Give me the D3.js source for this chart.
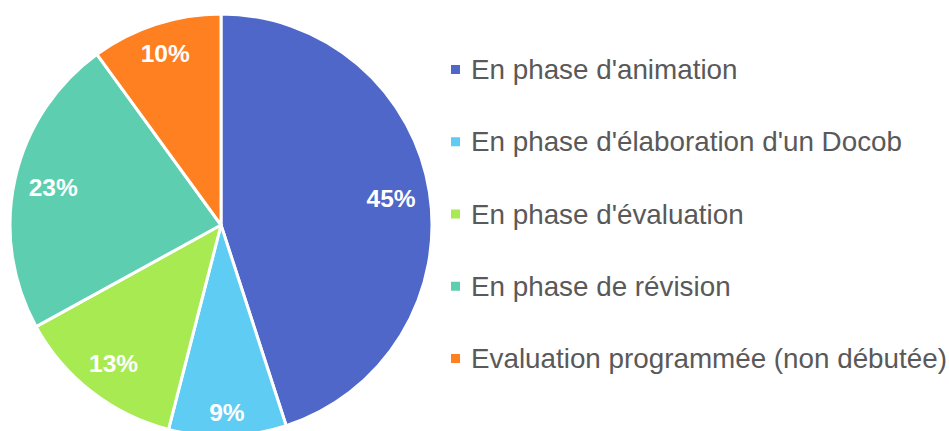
<!DOCTYPE html>
<html><head><meta charset="utf-8">
<script src="https://cdn.jsdelivr.net/npm/d3@7"></script>
<style>body{margin:0;background:#fff}</style>
</head><body>
<svg id="c" width="949" height="431"></svg>
<script>
const categories = ["En phase d'animation","En phase d'élaboration d'un Docob","En phase d'évaluation","En phase de révision","Evaluation programmée (non débutée)"];
const values = [45, 9, 13, 23, 10];
const colors = ["#4E67C8","#5ECCF3","#A7EA52","#5DCEAF","#FF8021"];

const FONT = "Liberation Sans, Arial, sans-serif";
const svg = d3.select("#c");
const cx = 221, cy = 225, R = 211;
const g = svg.append("g").attr("transform", `translate(${cx},${cy})`);
const pie = d3.pie().sort(null).value(d => d)(values);
const arc = d3.arc().innerRadius(0).outerRadius(R);
g.selectAll("path").data(pie).join("path")
  .attr("d", arc).attr("fill", (d,i) => colors[i])
  .attr("stroke", "#fff").attr("stroke-width", 3).attr("stroke-linejoin","round");

// data labels: placed along mid-angle so their box sits just inside the rim
const lab = g.selectAll("g.lab").data(pie).join("g").attr("class","lab");
lab.append("text")
  .attr("text-anchor","middle").attr("dy","0.35em")
  .attr("fill","#fff").attr("font-family",FONT)
  .attr("font-weight","bold").attr("font-size", 24.5)
  .text((d,i) => values[i] + "%");
lab.each(function(d){
  const t = d3.select(this).select("text").node();
  const w = t.getBBox().width, h = 18;
  const a = (d.startAngle + d.endAngle)/2;
  const s = Math.sin(a), c = -Math.cos(a);
  let r = R*0.8;
  for (let k=0;k<60;k++){
    const x = Math.abs(r*s) + w/2, y = Math.abs(r*c) + h/2;
    r += (R - 13 - Math.hypot(x,y))*0.5;
  }
  d3.select(this).attr("transform", `translate(${r*s},${r*c})`);
});

// legend
const base = d3.scalePoint().domain(categories).range([79, 368]);
const items = svg.append("g").selectAll("g").data(categories).join("g")
  .attr("transform", d => `translate(451,${base(d)})`);
items.append("rect").attr("x",0).attr("y",-14).attr("width",9).attr("height",9)
  .attr("fill", (d,i) => colors[i]);
items.append("text").attr("x", 20)
  .attr("fill","#595959").attr("font-family",FONT)
  .attr("font-size", 27.8).text(d => d);
</script>
</body></html>
